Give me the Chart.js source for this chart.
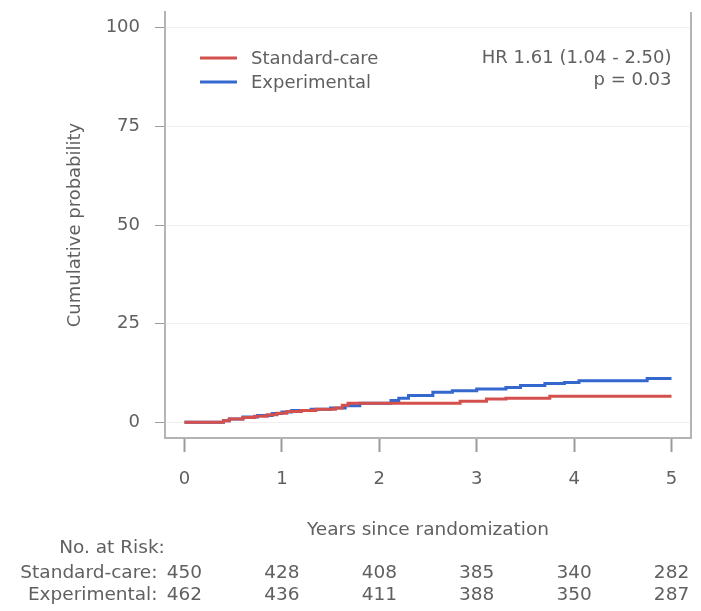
<!DOCTYPE html>
<html>
<head>
<meta charset="utf-8">
<script src="https://cdn.jsdelivr.net/npm/chart.js@4"></script>
<style>
  html, body { margin: 0; padding: 0; background: #fff; }
  #wrap { width: 701px; height: 611px; }
</style>
</head>
<body>
<div id="wrap"><canvas id="kmChart" width="701" height="611"></canvas></div>
<script>
// x ticks (years) and y ticks (%)
const years = [0, 1, 2, 3, 4, 5];
const yTickValues = [0, 25, 50, 75, 100];

// cumulative incidence, step points
const stdTimes = [0, 0.40, 0.46, 0.60, 0.72, 0.85, 0.95, 1.05, 1.20, 1.35, 1.55, 1.62, 1.68, 2.83, 3.10, 3.30, 3.75, 5.00];
const stdCum   = [0, 0.4,  0.8,  1.2,  1.5,  1.9,  2.3,  2.7,  3.0,  3.3,  3.6,  4.3,  4.8,  5.3,  5.9,  6.1,  6.6,  6.6];

const expTimes = [0, 0.40, 0.46, 0.60, 0.75, 0.90, 1.00, 1.10, 1.30, 1.50, 1.65, 1.80, 2.12, 2.20, 2.30, 2.55, 2.75, 3.00, 3.30, 3.45, 3.70, 3.90, 4.05, 4.75, 5.00];
const expCum   = [0, 0.4,  0.8,  1.3,  1.7,  2.2,  2.6,  3.0,  3.3,  3.6,  4.2,  4.8,  5.5,  6.1,  6.8,  7.6,  8.0,  8.4,  8.8,  9.3,  9.8,  10.1, 10.5, 11.1, 11.1];

// number at risk
const riskLabels = ['Standard-care:', 'Experimental:'];
const riskStandard = [450, 428, 408, 385, 340, 282];
const riskExperimental = [462, 436, 411, 388, 350, 287];

const seriesNames = ['Standard-care', 'Experimental'];
const seriesColors = ['#d4504c', '#3468cf'];
const annotation = ['HR 1.61 (1.04 - 2.50)', 'p = 0.03'];

const FONT = 'DejaVu Sans';
const TEXT = '#606060';

function pts(xs, ys) {
    return xs.map((x, i) => ({ x: x, y: ys[i] }));
}

const extras = {
    id: 'extras',
    afterDraw(chart) {
        const ctx = chart.ctx;
        const a = chart.chartArea;
        const xs = chart.scales.x;
        ctx.save();

        // right frame line
        ctx.strokeStyle = '#b4b4b4';
        ctx.lineWidth = 2;
        ctx.beginPath();
        ctx.moveTo(a.right, a.top);
        ctx.lineTo(a.right, a.bottom + 1);
        ctx.stroke();

        // legend
        ctx.font = '18px "' + FONT + '"';
        ctx.textBaseline = 'middle';
        ctx.fillStyle = TEXT;
        seriesNames.forEach((name, i) => {
            const y = 59 + i * 24;
            ctx.strokeStyle = seriesColors[i];
            ctx.lineWidth = 3;
            ctx.beginPath();
            ctx.moveTo(200, y - 1);
            ctx.lineTo(237, y - 1);
            ctx.stroke();
            ctx.textAlign = 'left';
            ctx.fillText(name, 251, y);
        });

        // HR annotation
        ctx.textAlign = 'right';
        annotation.forEach((t, i) => {
            ctx.fillText(t, xs.getPixelForValue(5), 58 + i * 22);
        });

        // y title
        ctx.save();
        ctx.translate(75, (a.top + a.bottom) / 2);
        ctx.rotate(-Math.PI / 2);
        ctx.textAlign = 'center';
        ctx.font = '18px "' + FONT + '"';
        ctx.fillText('Cumulative probability', 0, 0);
        ctx.restore();

        // x title
        ctx.textAlign = 'center';
        ctx.font = '18.5px "' + FONT + '"';
        ctx.fillText('Years since randomization', (a.left + a.right) / 2, 530);

        // number at risk table
        ctx.fillText('No. at Risk:', 112, 548);
        const rows = [riskStandard, riskExperimental];
        rows.forEach((vals, r) => {
            const y = 573 + r * 22;
            ctx.textAlign = 'right';
            ctx.fillText(riskLabels[r], xs.getPixelForValue(0) - 27, y);
            ctx.textAlign = 'center';
            vals.forEach((v, i) => {
                ctx.fillText(String(v), xs.getPixelForValue(years[i]), y);
            });
        });
        ctx.restore();
    }
};

const chart = new Chart(document.getElementById('kmChart'), {
    type: 'line',
    data: {
        datasets: [
            {
                label: seriesNames[0],
                data: pts(stdTimes, stdCum),
                borderColor: seriesColors[0],
                borderWidth: 3,
                stepped: 'before',
                pointRadius: 0,
                fill: false
            },
            {
                label: seriesNames[1],
                data: pts(expTimes, expCum),
                borderColor: seriesColors[1],
                borderWidth: 3,
                stepped: 'before',
                pointRadius: 0,
                fill: false
            }
        ]
    },
    options: {
        responsive: false,
        animation: false,
        layout: { padding: { top: 12, right: 10, left: 0, bottom: 0 } },
        plugins: {
            legend: { display: false },
            tooltip: { enabled: false }
        },
        scales: {
            x: {
                type: 'linear',
                min: -0.2,
                max: 5.2,
                afterBuildTicks: (s) => { s.ticks = years.map(v => ({ value: v })); },
                afterFit: (s) => { s.height = 173; },
                grid: { drawOnChartArea: false, tickColor: '#9a9a9a', tickLength: 14, tickWidth: 2 },
                border: { color: '#b4b4b4', width: 2 },
                ticks: { color: TEXT, font: { family: FONT, size: 18 }, padding: 17 }
            },
            y: {
                min: -4,
                max: 104,
                afterBuildTicks: (s) => { s.ticks = yTickValues.map(v => ({ value: v })); },
                afterFit: (s) => { s.width = 165; s.paddingTop = 0; s.paddingBottom = 0; },
                grid: { color: '#f1f1f1', tickColor: '#9a9a9a', tickLength: 10, lineWidth: 1 },
                border: { color: '#b4b4b4', width: 2 },
                ticks: { color: TEXT, font: { family: FONT, size: 18 }, padding: 15 }
            }
        }
    },
    plugins: [extras]
});
</script>
</body>
</html>
